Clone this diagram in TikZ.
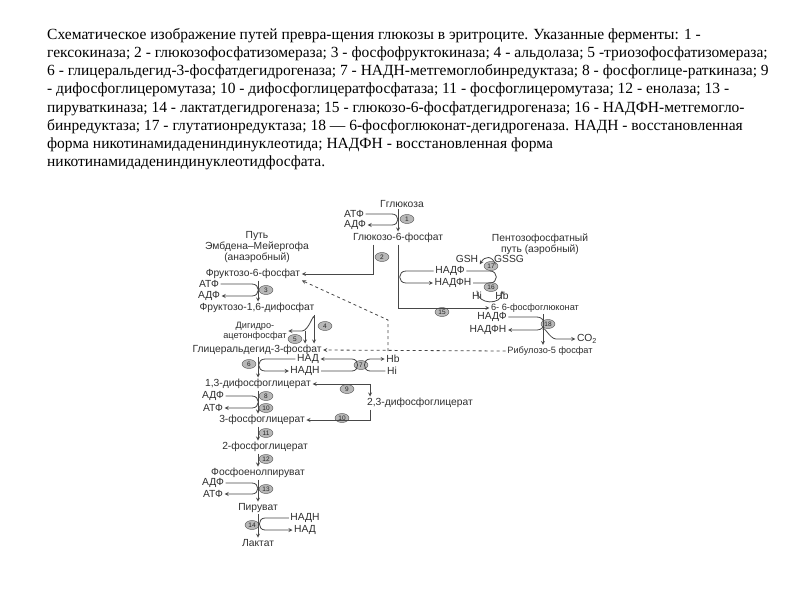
\documentclass[tikz,border=0pt]{standalone}
\usepackage{fontspec}
\setmainfont{Liberation Serif}
\newfontfamily\diagfont{Liberation Sans}
\usetikzlibrary{shapes.geometric}
\begin{document}
\begin{tikzpicture}[x=1pt,y=-1pt,>=stealth,
		chem/.style={font=\diagfont\fontsize{10.3}{8.8}\selectfont, text=black!82, inner sep=1.5pt, align=center},
		chemsmall/.style={chem, font=\diagfont\fontsize{9.2}{7.6}\selectfont},
		enz/.style={ellipse, draw=black!70, fill=black!28, minimum width=14pt, minimum height=9pt, inner sep=0pt, font=\diagfont\fontsize{6.5}{6.5}\selectfont, text=black!85},
		flow/.style={->, draw=black!72, line width=0.8pt},
		link/.style={draw=black!72, line width=0.8pt}]

				\useasboundingbox (0,0) rectangle (800,600);

				% Caption paragraph
				\node[anchor=north west, inner sep=0pt, align=left, font=\fontsize{15.5}{18.2}\selectfont] (caption) at (47,28) {Схематическое изображение путей превра-щения глюкозы в эритроците. Указанные ферменты: 1 -\\
гексокиназа; 2 - глюкозофосфатизомераза; 3 - фосфофруктокиназа; 4 - альдолаза; 5 -триозофосфатизомераза;\\
6 - глицеральдегид-3-фосфатдегидрогеназа; 7 - НАДН-метгемоглобинредуктаза; 8 - фосфоглице-раткиназа; 9\\
- дифосфоглицеромутаза; 10 - дифосфоглицератфосфатаза; 11 - фосфоглицеромутаза; 12 - енолаза; 13 -\\
пируваткиназа; 14 - лактатдегидрогеназа; 15 - глюкозо-6-фосфатдегидрогеназа; 16 - НАДФН-метгемогло-\\
бинредуктаза; 17 - глутатионредуктаза; 18 — 6-фосфоглюконат-дегидрогеназа. НАДН - восстановленная\\
форма никотинамидадениндинуклеотида; НАДФН - восстановленная форма\\
никотинамидадениндинуклеотидфосфата.};

				% Axes of the two main columns
				\coordinate (axisl) at (258,0);
				\coordinate (axisr) at (543,0);
				\coordinate (aldline) at (314,0);
				\coordinate (mutase) at (370,0);

				% Glucose and hexokinase
				\node[chem] (glucose) at (402,204) {Гглюкоза};
				\node[chem] (atf1) at (354,214) {АТФ};
				\node[chem] (adf1) at (355,225) {АДФ};
				\node[enz] (e1) at (407,219) {1};
				\node[chem] (g6p) at (398,238) {Глюкозо-6-фосфат};

				% Pathway titles
				\node[chem] (emp) at (257,247) {Путь\\Эмбдена–Мейергофа\\(анаэробный)};
				\node[chem] (pentose) at (540,244) {Пентозофосфатный\\путь (аэробный)};

				% Glycolysis column
				\node[enz] (e2) at (382,257) {2};
				\node[chem] (f6p) at (253,274) {Фруктозо-6-фосфат};
				\node[chem] (atf3) at (209,284) {АТФ};
				\node[chem] (adf3) at (209,296) {АДФ};
				\node[enz] (e3) at (266,290) {3};
				\node[chem] (f16bp) at (257,308) {Фруктозо-1,6-дифосфат};
				\node[chemsmall] (dhap) at (255,331) {Дигидро-\\ацетонфосфат};
				\node[enz] (e4) at (325,326) {4};
				\node[enz] (e5) at (295,339) {5};
				\node[chem] (gap) at (257,350) {Глицеральдегид-3-фосфат};
				\node[enz] (e6) at (249,364) {6};
				\node[chem] (nad7) at (308,359) {НАД};
				\node[chem] (nadh7) at (305,371) {НАДН};
				\node[enz] (e7) at (361,365) {7};
				\node[chem] (hb7) at (393,359) {Hb};
				\node[chem] (hi7) at (392,371) {Hi};
				\node[chem] (bpg13) at (258,384) {1,3-дифосфоглицерат};
				\node[enz] (e9) at (347,389) {9};
				\node[chem] (bpg23) at (420,403) {2,3-дифосфоглицерат};
				\node[chem] (adf8) at (213,396) {АДФ};
				\node[chem] (atf8) at (213,408) {АТФ};
				\node[enz] (e8) at (266,396) {8};
				\node[enz] (e8b) at (266,408) {10};
				\node[chem] (pg3) at (262,420) {3-фосфоглицерат};
				\node[enz] (e10) at (342,418) {10};
				\node[enz] (e11) at (266,433) {11};
				\node[chem] (pg2) at (265,447) {2-фосфоглицерат};
				\node[enz] (e12) at (266,459) {12};
				\node[chem] (pep) at (258,473) {Фосфоенолпируват};
				\node[chem] (adf13) at (213,483) {АДФ};
				\node[chem] (atf13) at (213,494) {АТФ};
				\node[enz] (e13) at (266,489) {13};
				\node[chem] (pyr) at (258,508) {Пируват};
				\node[enz] (e14) at (252,525) {14};
				\node[chem] (nadh14) at (305,518) {НАДН};
				\node[chem] (nad14) at (305,530) {НАД};
				\node[chem] (lac) at (258,543) {Лактат};

				% Pentose phosphate column
				\node[chem] (gsh) at (467,259) {GSH};
				\node[chem] (gssg) at (509,259) {GSSG};
				\node[enz] (e17) at (491,266) {17};
				\node[chem] (nadp) at (450,271) {НАДФ};
				\node[chem] (nadph) at (453,283) {НАДФН};
				\node[enz] (e16) at (491,287) {16};
				\node[chem] (hi16) at (477,296) {Hi};
				\node[chem] (hb16) at (502,296) {Hb};
				\node[chemsmall] (pg6) at (535,308) {6- 6-фосфоглюконат};
				\node[enz] (e15) at (442,312) {15};
				\node[chem] (nadp18) at (492,317) {НАДФ};
				\node[chem] (nadph18) at (488,330) {НАДФН};
				\node[enz] (e18) at (548,324) {18};
				\node[chem] (co2) at (587,339) {CO\textsubscript{2}};
				\node[chemsmall] (ru5p) at (550,351) {Рибулозо-5 фосфат};

				% Branch points
				\coordinate (aldfork) at (314,318);
				\coordinate (dhapjoin) at (305,331);
				\coordinate (dashfork) at (388,351);
				\coordinate (dashbend) at (388,320);
				\coordinate (co2fork) at (543,330);

				% Main arrows, glycolysis
				\draw[flow] (glucose.south -| g6p.north) -- (g6p.north);
				\draw[flow] ([xshift=-25pt]g6p.south) |- (f6p.east);
				\draw[flow] (f6p.south -| axisl) -- (f16bp.north -| axisl);
				\draw[flow] (f16bp.south -| aldline) -- (gap.north -| aldline);
				\draw[flow] (aldfork) to[out=90,in=0] (302,331) -- (dhap.east);
				\draw[flow] (dhapjoin) -- (gap.north -| dhapjoin);
				\draw[flow] (gap.south -| axisl) -- (bpg13.north -| axisl);
				\draw[flow] (bpg13.south -| axisl) -- (pg3.north -| axisl);
				\draw[<->, draw=black!72, line width=0.8pt] (bpg13.east) -| (bpg23.north -| mutase);
				\draw[flow] (bpg23.south -| mutase) |- (pg3.east);
				\draw[flow] (pg3.south -| axisl) -- (pg2.north -| axisl);
				\draw[flow] (pg2.south -| axisl) -- (pep.north -| axisl);
				\draw[flow] (pep.south -| axisl) -- (pyr.north -| axisl);
				\draw[flow] (pyr.south -| axisl) -- (lac.north -| axisl);

				% Side reactions, glycolysis
				\draw[flow] (atf1) -- (392,214) to[out=0,in=0,looseness=1.8] (392,225) -- (adf1);
				\draw[flow] (atf3) -- (252,284) to[out=0,in=0,looseness=1.8] (252,296) -- (adf3);
				\draw[flow] (nad7) -- (265,359) to[out=180,in=180,looseness=1.8] (265,371) -- (nadh7);
				\draw[flow] (nadh7) -- (352,371) to[out=0,in=0,looseness=1.6] (352,359) -- (nad7);
				\draw[flow] (hi7) -- (370,371) to[out=180,in=180,looseness=1.6] (370,359) -- (hb7);
				\draw[flow] (adf8) -- (252,396) to[out=0,in=0,looseness=1.8] (252,408) -- (atf8);
				\draw[flow] (adf13) -- (252,483) to[out=0,in=0,looseness=1.8] (252,494) -- (atf13);
				\draw[flow] (nadh14) -- (265,518) to[out=180,in=180,looseness=1.6] (265,530) -- (nad14);

				% Pentose phosphate arrows
				\draw[flow] (g6p.south) |- (pg6.west);
				\draw[flow] (nadp) -- (406,271) to[out=180,in=180,looseness=1.8] (406,283) -- (nadph);
				\draw[link] (nadph) -- (490,283) to[out=0,in=0,looseness=1.8] (490,271) -- (nadp);
				\draw[flow] ([xshift=3pt]gssg.south west) to[out=110,in=60,looseness=1.6] (gsh.south east);
				\draw[flow] (hi16.north) to[out=-90,in=-90,looseness=1.5] (hb16.north);
				\draw[flow] (pg6.south -| axisr) -- (ru5p.north -| axisr);
				\draw[flow] (nadp18) -- (537,317) to[out=0,in=0,looseness=1.8] (537,330) -- (nadph18);
				\draw[flow] (co2fork) to[out=90,in=180] (556,339) -- (co2);

				% Dashed return to glycolysis
				\draw[flow, dashed] (ru5p.west) -- (gap.east);
				\draw[flow, dashed] (dashfork) -- (dashbend) -- (f6p.south east);
			\end{tikzpicture}
\end{document}
